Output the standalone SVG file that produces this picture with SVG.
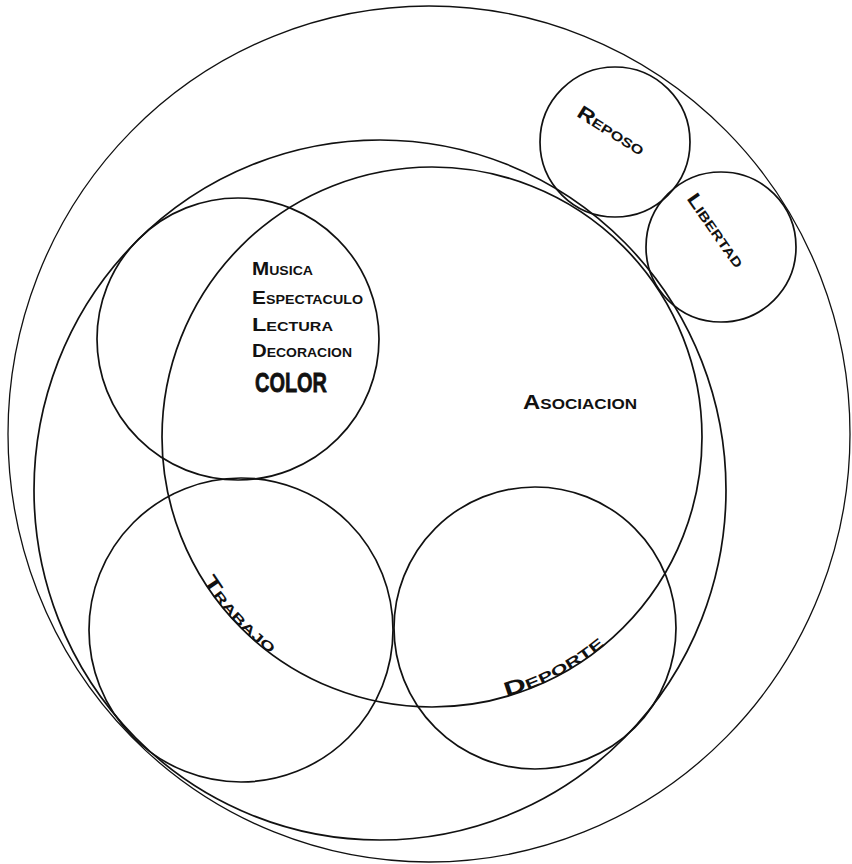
<svg xmlns="http://www.w3.org/2000/svg" width="852" height="864" viewBox="0 0 852 864">
  <defs>
    <style>
      .c { fill: none; stroke: #111; stroke-width: 1.7; }
      .thin { stroke-width: 1.3; }
      .t { font-family: "Liberation Sans", "DejaVu Sans", sans-serif; font-weight: bold; font-variant: small-caps; fill: #111; }
    </style>
    <path id="asocArc" d="M166.1,483.9 A270,270 0 0 0 697.9,483.9"/>
  </defs>
  <rect width="852" height="864" fill="#fff"/>

  <g id="outer">
    <ellipse class="c thin" cx="429" cy="434" rx="421" ry="428"/>
  </g>
  <g id="middle">
    <ellipse class="c" cx="380" cy="490" rx="346" ry="350"/>
  </g>

  <g id="asociacion">
    <circle class="c" cx="432" cy="437" r="270"/>
    <text class="t" x="523" y="409" font-size="21" textLength="114" lengthAdjust="spacingAndGlyphs">Asociacion</text>
  </g>

  <g id="cultura">
    <circle class="c" cx="238" cy="339" r="141"/>
    <text class="t" x="252" y="275" font-size="19" textLength="61" lengthAdjust="spacingAndGlyphs">Musica</text>
    <text class="t" x="252" y="304" font-size="19" textLength="111" lengthAdjust="spacingAndGlyphs">Espectaculo</text>
    <text class="t" x="252" y="331" font-size="19" textLength="81" lengthAdjust="spacingAndGlyphs">Lectura</text>
    <text class="t" x="252" y="357" font-size="19" textLength="100" lengthAdjust="spacingAndGlyphs">Decoracion</text>
    <text x="255" y="392" font-family="Liberation Sans, DejaVu Sans, sans-serif" font-weight="bold" font-size="28" fill="#111" stroke="#111" stroke-width="0.8" textLength="72" lengthAdjust="spacingAndGlyphs">COLOR</text>
  </g>

  <g id="trabajo">
    <circle class="c" cx="241" cy="630" r="152"/>
    <text class="t" font-size="19"><textPath href="#asocArc" startOffset="104" textLength="100" lengthAdjust="spacingAndGlyphs">Trabajo</textPath></text>
  </g>

  <g id="deporte">
    <circle class="c" cx="535" cy="628" r="141"/>
    <text class="t" font-size="20"><textPath href="#asocArc" startOffset="452" textLength="112" lengthAdjust="spacingAndGlyphs">Deporte</textPath></text>
  </g>

  <g id="reposo">
    <circle class="c" cx="615" cy="142" r="75"/>
    <text class="t" x="608" y="136" font-size="19" text-anchor="middle" textLength="76" lengthAdjust="spacingAndGlyphs" transform="rotate(32 608 136)">Reposo</text>
  </g>

  <g id="libertad">
    <circle class="c" cx="721" cy="247" r="75"/>
    <text class="t" x="711" y="234" font-size="19" text-anchor="middle" textLength="86" lengthAdjust="spacingAndGlyphs" transform="rotate(55 711 234)">Libertad</text>
  </g>

  <g id="connectors"></g>
</svg>
